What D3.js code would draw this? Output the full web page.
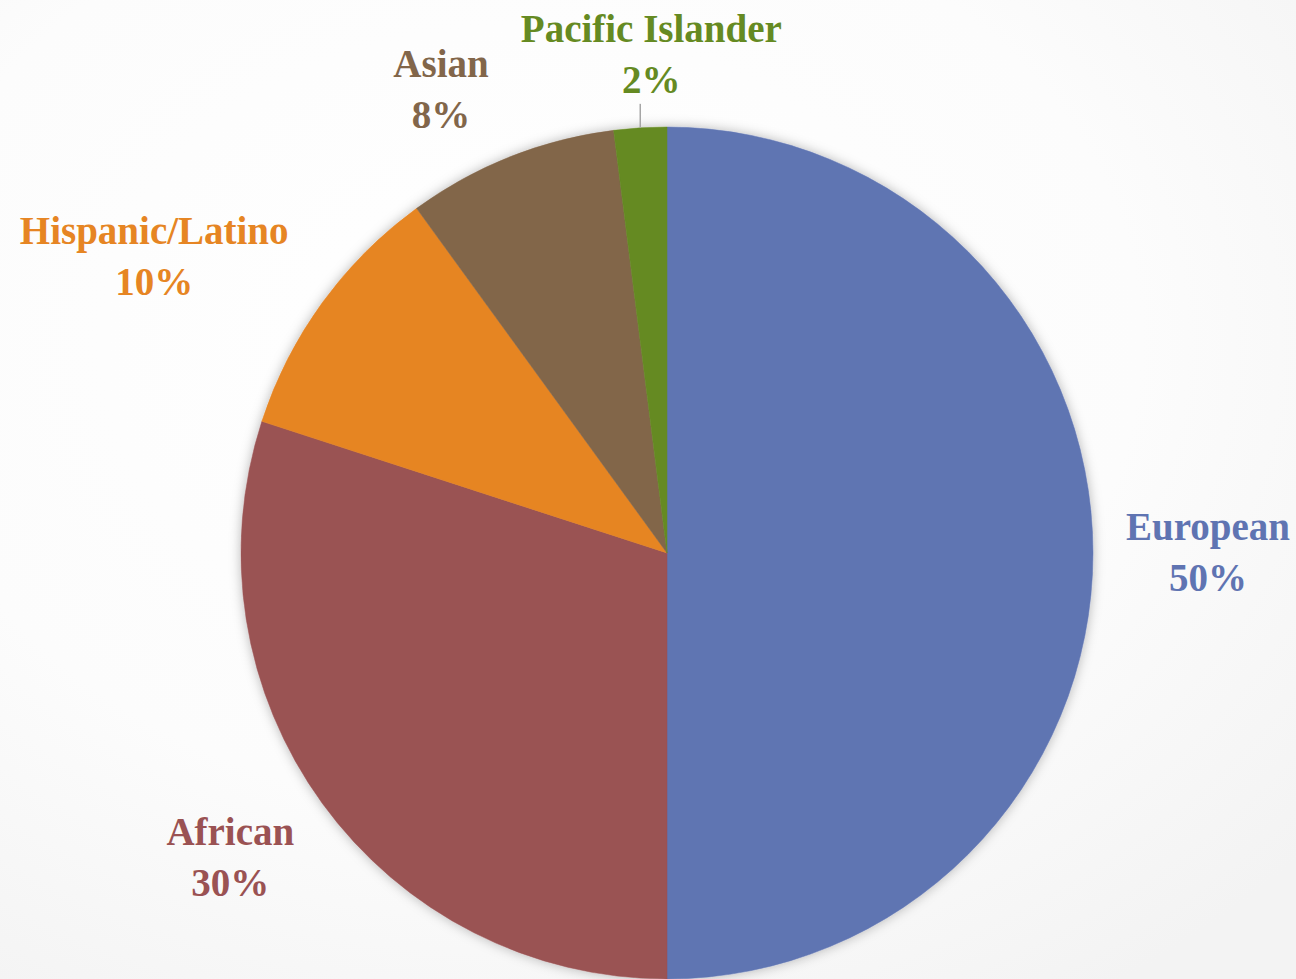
<!DOCTYPE html>
<html>
<head>
<meta charset="utf-8">
<script src="https://cdn.jsdelivr.net/npm/d3@7"></script>
<style>
  html, body { margin: 0; padding: 0; background: #ffffff; }
  svg { display: block; }
  .label { font-family: "Liberation Serif", "DejaVu Serif", serif; font-weight: bold; }
</style>
</head>
<body>
<svg id="chart" width="1296" height="979"></svg>
<script>
// Population share by origin
const categories = ["European", "African", "Hispanic/Latino", "Asian", "Pacific Islander"];
const shares = [50, 30, 10, 8, 2];
const percentLabels = ["50%", "30%", "10%", "8%", "2%"];

const colors = ["#5f74b2", "#9a5253", "#e68523", "#82664a", "#658a22"];

// Label placement: angle nudge (degrees) and distance as a multiple of the radius
const labelLayout = [
  { nudge: 0,    dist: 1.27 },
  { nudge: 1.1,  dist: 1.25 },
  { nudge: -6,   dist: 1.39 },
  { nudge: -4.4, dist: 1.21 },
  { nudge: 1.8,  dist: 1.17 }
];

const width = 1296, height = 979;
const cx = 667, cy = 553, radius = 426;

const svg = d3.select("#chart");
const defs = svg.append("defs");

// Soft page background
const bg = defs.append("radialGradient")
  .attr("id", "bg").attr("cx", "40%").attr("cy", "35%").attr("r", "80%");
bg.append("stop").attr("offset", "0%").attr("stop-color", "#ffffff");
bg.append("stop").attr("offset", "60%").attr("stop-color", "#fcfcfc");
bg.append("stop").attr("offset", "100%").attr("stop-color", "#f3f3f3");
svg.append("rect").attr("width", width).attr("height", height).attr("fill", "url(#bg)");

// Drop shadow round the pie
const shadow = defs.append("filter").attr("id", "shadow")
  .attr("x", "-10%").attr("y", "-10%").attr("width", "120%").attr("height", "120%");
shadow.append("feDropShadow")
  .attr("dx", 0).attr("dy", 0).attr("stdDeviation", 6)
  .attr("flood-color", "#000").attr("flood-opacity", 0.28);

const pie = d3.pie().sort(null).value(d => d)(shares);
const arc = d3.arc().innerRadius(0).outerRadius(radius);

const g = svg.append("g").attr("transform", `translate(${cx},${cy})`);

g.append("g").attr("filter", "url(#shadow)")
  .selectAll("path")
  .data(pie)
  .join("path")
  .attr("d", arc)
  .attr("fill", (d, i) => colors[i])
  .attr("stroke", (d, i) => colors[i])
  .attr("stroke-width", 0.5);

function polar(angle, r) {
  return [Math.sin(angle) * r, -Math.cos(angle) * r];
}

const fontSize = 39;
const lineGap = 51;

pie.forEach((d, i) => {
  const mid = (d.startAngle + d.endAngle) / 2;
  const lay = labelLayout[i];
  const [lx, ly] = polar(mid + lay.nudge * Math.PI / 180, radius * lay.dist);

  const t = g.append("text")
    .attr("class", "label")
    .attr("text-anchor", "middle")
    .attr("fill", colors[i])
    .attr("font-size", fontSize);
  t.append("tspan").attr("x", lx).attr("y", ly - lineGap / 2 + fontSize * 0.33).text(categories[i]);
  t.append("tspan").attr("x", lx).attr("y", ly + lineGap / 2 + fontSize * 0.33).text(percentLabels[i]);

  // Leader line for the small slice whose label sits off the edge
  if (shares[i] < 5) {
    const [x1, y1] = polar(mid, radius);
    g.append("line")
      .attr("x1", x1).attr("y1", y1).attr("x2", x1).attr("y2", y1 - 24)
      .attr("stroke", "#a6a6a6").attr("stroke-width", 1.5);
  }
});
</script>
</body>
</html>
